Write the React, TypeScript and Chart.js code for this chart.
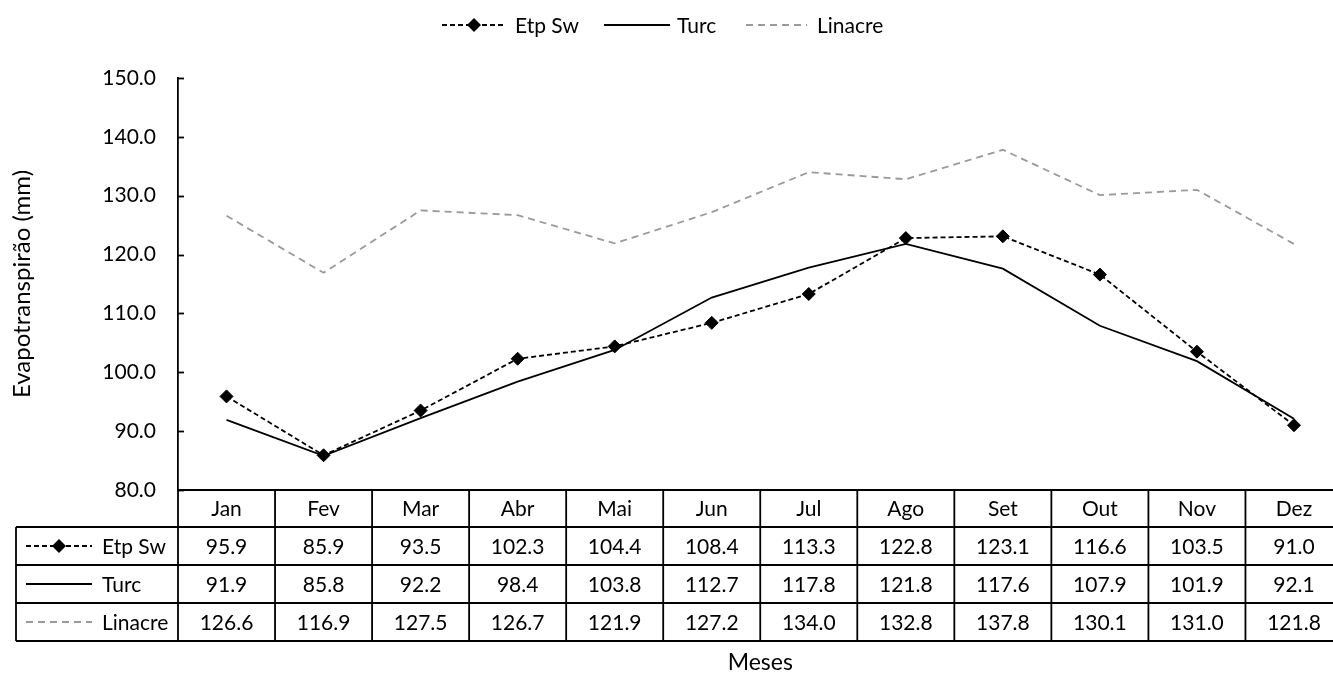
import React, { useEffect, useRef } from "react";
import { Chart, registerables } from "chart.js";

Chart.register(...registerables);

const months = ["Jan", "Fev", "Mar", "Abr", "Mai", "Jun", "Jul", "Ago", "Set", "Out", "Nov", "Dez"];
const etpSw = [95.9, 85.9, 93.5, 102.3, 104.4, 108.4, 113.3, 122.8, 123.1, 116.6, 103.5, 91.0];
const turc = [91.9, 85.8, 92.2, 98.4, 103.8, 112.7, 117.8, 121.8, 117.6, 107.9, 101.9, 92.1];
const linacre = [126.6, 116.9, 127.5, 126.7, 121.9, 127.2, 134.0, 132.8, 137.8, 130.1, 131.0, 121.8];
const seriesNames = ["Etp Sw", "Turc", "Linacre"];
const yMin = 80;
const yMax = 150;
const yStep = 10;

const FONT = "Lato, 'Open Sans', sans-serif";
const FS = 21;
const GRAY = "#9a9a9a";

function drawSample(ctx: CanvasRenderingContext2D, idx: number, x0: number, x1: number, y: number) {
  ctx.save();
  ctx.lineWidth = 1.8;
  if (idx === 0) {
    ctx.strokeStyle = "#000";
    ctx.setLineDash([5, 3]);
  } else if (idx === 1) {
    ctx.strokeStyle = "#000";
    ctx.setLineDash([]);
  } else {
    ctx.strokeStyle = GRAY;
    ctx.setLineDash([7, 5]);
  }
  ctx.beginPath();
  ctx.moveTo(x0, y);
  ctx.lineTo(x1, y);
  ctx.stroke();
  if (idx === 0) {
    const cx = (x0 + x1) / 2;
    ctx.setLineDash([]);
    ctx.fillStyle = "#000";
    ctx.beginPath();
    ctx.moveTo(cx, y - 7);
    ctx.lineTo(cx + 7, y);
    ctx.lineTo(cx, y + 7);
    ctx.lineTo(cx - 7, y);
    ctx.closePath();
    ctx.fill();
  }
  ctx.restore();
}

const tablePlugin = {
  id: "tablePlugin",
  afterDraw(chart: any) {
    const ctx: CanvasRenderingContext2D = chart.ctx;
    const area = chart.chartArea;
    const xs = chart.scales.x;
    const ys = chart.scales.y;
    const data = [etpSw, turc, linacre];
    const colW = (area.right - area.left) / months.length;
    const rowH = 38;
    const top = area.bottom;
    const headerBottom = top + 37;
    const tableBottom = headerBottom + rowH * 3;
    const labelLeft = 16;

    ctx.save();
    ctx.strokeStyle = "#000";
    ctx.lineWidth = 1.8;
    for (let v = yMin; v <= yMax; v += yStep) {
      const py = Math.round(ys.getPixelForValue(v)) + 0.5;
      ctx.beginPath();
      ctx.moveTo(area.left, py);
      ctx.lineTo(area.left + 6, py);
      ctx.stroke();
    }

    ctx.lineWidth = 1.8;
    ctx.beginPath();
    ctx.moveTo(area.left, top);
    ctx.lineTo(area.right + 20, top);
    for (let i = 0; i <= months.length; i++) {
      const x = area.left + i * colW;
      ctx.moveTo(x, top);
      ctx.lineTo(x, tableBottom);
    }
    for (let r = 0; r <= 3; r++) {
      const y = headerBottom + r * rowH;
      ctx.moveTo(labelLeft, y);
      ctx.lineTo(area.right + 20, y);
    }
    ctx.moveTo(labelLeft, headerBottom);
    ctx.lineTo(labelLeft, tableBottom);
    ctx.stroke();

    ctx.fillStyle = "#000";
    ctx.font = `${FS}px ${FONT}`;
    ctx.textAlign = "center";
    ctx.textBaseline = "middle";
    months.forEach((m, i) => {
      const cx = xs.getPixelForValue(i);
      ctx.fillText(m, cx, top + 19);
      data.forEach((arr, r) => {
        ctx.fillText(arr[i].toFixed(1), cx, headerBottom + r * rowH + rowH / 2 + 1);
      });
    });

    ctx.textAlign = "left";
    seriesNames.forEach((name, r) => {
      const cy = headerBottom + r * rowH + rowH / 2;
      drawSample(ctx, r, 26, 92, cy);
      ctx.fillStyle = "#000";
      ctx.fillText(name, 102, cy + 1);
    });

    ctx.textAlign = "center";
    ctx.font = `23px ${FONT}`;
    ctx.fillText("Meses", (area.left + area.right) / 2, 663);

    ctx.font = `${FS}px ${FONT}`;
    const legendY = 25;
    const items = [
      { x0: 442, x1: 506, tx: 515 },
      { x0: 604, x1: 670, tx: 677 },
      { x0: 746, x1: 807, tx: 817 },
    ];
    ctx.textAlign = "left";
    items.forEach((it, i) => {
      drawSample(ctx, i, it.x0, it.x1, legendY);
      ctx.fillStyle = "#000";
      ctx.fillText(seriesNames[i], it.tx, legendY + 1);
    });
    ctx.restore();
  },
};

export default function App() {
  const ref = useRef<HTMLCanvasElement | null>(null);

  useEffect(() => {
    document.body.style.margin = "0";
    if (!ref.current) return;
    const chart = new Chart(ref.current, {
      type: "line",
      data: {
        labels: months,
        datasets: [
          {
            label: seriesNames[0],
            data: etpSw,
            borderColor: "#000",
            backgroundColor: "#000",
            borderWidth: 1.8,
            borderDash: [5, 3],
            pointStyle: "rectRot",
            pointRadius: 6.5,
            pointBackgroundColor: "#000",
            pointBorderColor: "#000",
            pointBorderWidth: 1,
            tension: 0,
            order: 0,
          },
          {
            label: seriesNames[1],
            data: turc,
            borderColor: "#000",
            borderWidth: 1.8,
            pointRadius: 0,
            tension: 0,
            order: 1,
          },
          {
            label: seriesNames[2],
            data: linacre,
            borderColor: GRAY,
            borderWidth: 1.8,
            borderDash: [7, 5],
            pointRadius: 0,
            tension: 0,
            order: 2,
          },
        ],
      },
      options: {
        responsive: false,
        animation: false,
        events: [],
        layout: { padding: { top: 78, right: 7, bottom: 0, left: 0 } },
        plugins: {
          legend: { display: false },
          tooltip: { enabled: false },
          title: { display: false },
        },
        scales: {
          x: {
            type: "category",
            offset: true,
            display: true,
            grid: { display: false, drawTicks: false },
            border: { display: false },
            ticks: { display: false },
            afterFit: (scale: any) => {
              scale.height = 183;
            },
          },
          y: {
            min: yMin,
            max: yMax,
            grid: { display: false, drawTicks: false },
            border: { display: true, color: "#000", width: 1.8 },
            ticks: {
              stepSize: yStep,
              color: "#000",
              padding: 22,
              font: { family: FONT, size: FS },
              callback: (v: any) => Number(v).toFixed(1),
            },
            title: {
              display: true,
              text: "Evapotranspirão (mm)",
              color: "#000",
              font: { family: FONT, size: 24 },
              padding: { top: 8, bottom: 0 },
            },
            afterFit: (scale: any) => {
              scale.width = 178;
            },
          },
        },
      },
      plugins: [tablePlugin],
    });
    return () => chart.destroy();
  }, []);

  return (
    <div style={{ width: 1333, height: 673, overflow: "hidden", position: "relative", background: "#fff" }}>
      <canvas ref={ref} width={1350} height={673} style={{ display: "block", width: 1350, height: 673 }} />
    </div>
  );
}
